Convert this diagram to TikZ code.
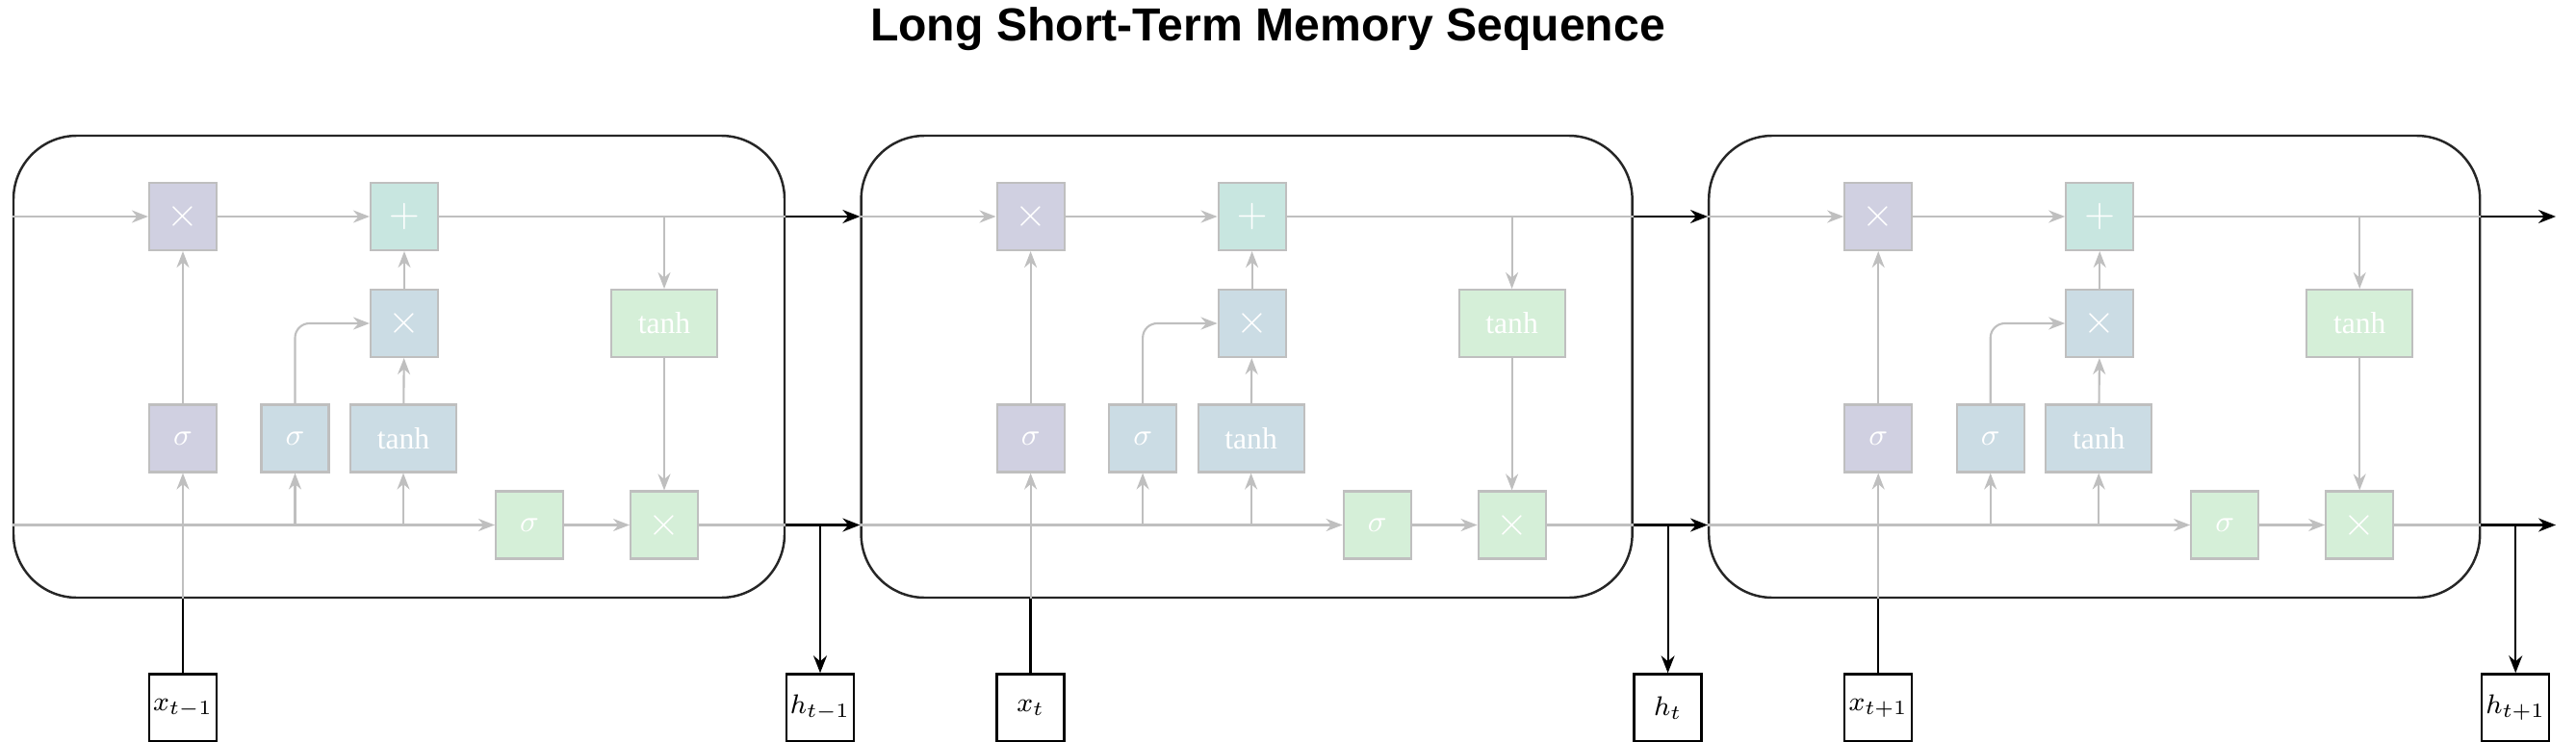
\documentclass[tikz,border=0pt]{standalone}
\usepackage{amsmath}
\usepackage{fontspec}
\setmainfont{Liberation Serif}
\newfontfamily\titlefont{Liberation Sans}
\usetikzlibrary{arrows.meta}

\definecolor{gatepurple}{HTML}{D0D0E1}
\definecolor{gateteal}{HTML}{C8E6E0}
\definecolor{gateblue}{HTML}{CBDCE4}
\definecolor{gategreen}{HTML}{D5EFD8}
\definecolor{wiregray}{HTML}{BFBFBF}

\tikzset{
  gate/.style={draw=wiregray, line width=0.6pt, text=white, minimum width=0.7cm, minimum height=0.7cm, inner sep=0pt, font=\fontsize{9}{10}\selectfont},
  widegate/.style={gate, minimum width=1.1cm},
  opgate/.style={gate, font=\fontsize{12}{12}\selectfont},
  wire/.style={wiregray, line width=0.6pt},
  flow/.style={wire, -{Stealth[length=0.17cm, width=0.13cm]}},
  link/.style={black, line width=0.6pt, -{Stealth[length=0.18cm, width=0.14cm]}},
  cellbox/.style={draw=black!85, line width=0.7pt, rounded corners=0.66cm, minimum width=8.01cm, minimum height=4.8cm, inner sep=0pt},
  iobox/.style={draw, line width=0.7pt, minimum size=0.7cm, inner sep=0pt, font=\fontsize{8.5}{10}\selectfont}
}

\begin{document}
\begin{tikzpicture}
\useasboundingbox (0,0) rectangle (26.76,7.70);
\node[font=\titlefont\bfseries\fontsize{13.7}{16}\selectfont] (title) at (13.17,7.40) {Long Short-Term Memory Sequence}; %title

\foreach \i/\xs/\lx/\lh in {1/0/{x_{t-1}}/{h_{t-1}}, 2/8.806/{x_{t}}/{h_{t}}, 3/17.612/{x_{t+1}}/{h_{t+1}}}{
\begin{scope}[xshift=\xs cm]
\node[cellbox] (cell\i) at (4.145,3.89) {}; %cell frame
% gates
\node[opgate, fill=gatepurple] (fm\i) at (1.90,5.45) {$\times$};
\node[opgate, fill=gateteal] (ad\i) at (4.20,5.45) {$+$};
\node[opgate, fill=gateblue] (im\i) at (4.20,4.34) {$\times$};
\node[widegate, fill=gategreen] (tc\i) at (6.90,4.34) {tanh};
\node[gate, fill=gatepurple] (fs\i) at (1.90,3.145) {$\sigma$};
\node[gate, fill=gateblue] (is\i) at (3.065,3.145) {$\sigma$};
\node[widegate, fill=gateblue] (ti\i) at (4.19,3.145) {tanh};
\node[gate, fill=gategreen] (os\i) at (5.50,2.245) {$\sigma$};
\node[opgate, fill=gategreen] (om\i) at (6.90,2.245) {$\times$};
% inputs and outputs
\node[iobox] (x\i) at (1.90,0.345) {$\lx$};
\node[iobox] (h\i) at (8.52,0.345) {$\lh$};
\coordinate (cin\i) at (cell\i.west |- fm\i.west);
\coordinate (hin\i) at (cell\i.west |- os\i.west);
\coordinate (cout\i) at (cell\i.east |- ad\i.east);
\coordinate (hout\i) at (cell\i.east |- om\i.east);
% cell state
\draw[flow] (cin\i) -- (fm\i);
\draw[flow] (fm\i) -- (ad\i);
\draw[wire] (ad\i) -- (cout\i);
\draw[flow] (ad\i.east -| tc\i.north) -- (tc\i);
% hidden state
\draw[flow] (hin\i) -- (os\i);
\draw[flow] (os\i) -- (om\i);
\draw[wire] (om\i) -- (hout\i);
\draw[flow] (is\i.south |- hin\i) -- (is\i);
\draw[flow] (ti\i.south |- hin\i) -- (ti\i);
\draw[flow] (tc\i) -- (om\i);
\draw[flow] (ti\i) -- (im\i);
\draw[flow] (im\i) -- (ad\i);
\draw[flow] (fs\i) -- (fm\i);
\draw[flow, rounded corners=0.15cm] (is\i) |- (im\i);
% input x
\draw[black, line width=0.7pt] (x\i) -- (x\i.north |- cell\i.south);
\draw[flow] (x\i.north |- cell\i.south) -- (fs\i);
% output h
\draw[link] (h\i.north |- hout\i) -- (h\i);
\end{scope}
}

\foreach \i/\j in {1/2, 2/3}{
\draw[link] (cout\i) -- (cin\j);
\draw[link] (hout\i) -- (hin\j);
}
\coordinate (cend) at (26.55,5.45);
\coordinate (hend) at (26.55,2.245);
\draw[link] (cout3) -- (cend);
\draw[link] (hout3) -- (hend);
\end{tikzpicture}
\end{document}
